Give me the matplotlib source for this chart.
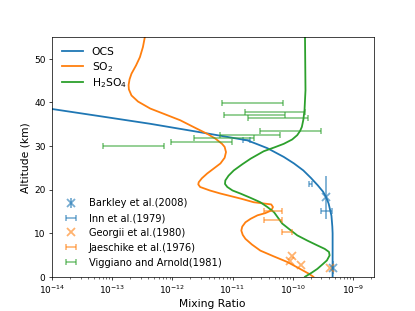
import numpy as np
import matplotlib
matplotlib.use("Agg")
import matplotlib.pyplot as plt

# model profiles (mixing ratio vs altitude km)
ocs_z = [0, 5, 10, 11.5, 14, 16.8, 18.2, 19.5, 21, 22.7, 24.4, 26, 27.5, 29.5,
         30.4, 31.3, 33, 35.1, 37, 38.5, 40]
ocs_x = [4.6e-10, 4.6e-10, 4.6e-10, 4.55e-10, 4.4e-10, 3.95e-10, 3.6e-10, 3.2e-10,
         2.6e-10, 2.0e-10, 1.5e-10, 1.05e-10, 7.1e-11, 3.8e-11, 2.6e-11, 1.76e-11,
         3.4e-12, 4.3e-13, 5.3e-14, 1e-14, 2e-15]

so2_z = [0, 0.7, 2.0, 3.4, 4.7, 6.0, 7.4, 8.7, 9.6, 10.6, 11.5, 12.5, 13.3, 14.1,
         14.6, 15.2, 16.0, 16.6, 17.1, 17.9, 19.1, 19.8, 20.6, 21.2, 21.7, 22.6,
         23.7, 26.0, 27.3, 28.6, 29.8, 30.5, 31.7, 32.8, 34.3, 35.9, 37.3, 38.6,
         40.2, 41.6, 43.0, 44.0, 45.3, 46.6, 48.5, 50.4, 52.7, 55]
so2_x = [2.2e-10, 1.85e-10, 1.25e-10, 8.1e-11, 4.8e-11, 2.9e-11, 2.1e-11, 1.64e-11,
         1.48e-11, 1.4e-11, 1.45e-11, 1.64e-11, 2.0e-11, 2.6e-11, 3.5e-11, 4.4e-11,
         4.7e-11, 4.4e-11, 2.25e-11, 1.4e-11, 6.3e-12, 4.2e-12, 2.9e-12, 2.7e-12,
         2.75e-12, 3.1e-12, 3.8e-12, 6.3e-12, 7.4e-12, 7.8e-12, 7.4e-12, 6.7e-12,
         5.2e-12, 3.8e-12, 2.3e-12, 1.36e-12, 7.5e-13, 4.3e-13, 2.7e-13, 2.1e-13,
         1.9e-13, 1.88e-13, 1.95e-13, 2.1e-13, 2.5e-13, 2.9e-13, 3.25e-13, 3.5e-13]

h2so4_z = [0, 0.9, 1.8, 2.8, 3.75, 4.9, 5.7, 6.4, 7.2, 8.3, 9.5, 10.8, 12.2, 14.8,
           16.0, 17.1, 18.1, 19.1, 19.8, 20.6, 21.3, 22.1, 23.2, 24.4, 25.8, 27.1,
           28.8, 29.7, 30.5, 31.5, 32.5, 33.5, 34.4, 36.0, 38.2, 42.8, 55]
h2so4_x = [1.6e-10, 2.05e-10, 2.56e-10, 3.1e-10, 3.7e-10, 4.1e-10, 4.0e-10, 3.4e-10,
           2.56e-10, 1.75e-10, 1.19e-10, 9.0e-11, 6.7e-11, 4.9e-11, 3.8e-11, 2.9e-11,
           2.0e-11, 1.35e-11, 1.0e-11, 8.2e-12, 7.5e-12, 7.6e-12, 8.6e-12, 1.05e-11,
           1.45e-11, 2.0e-11, 3.3e-11, 5.0e-11, 7.1e-11, 9.8e-11, 1.19e-10, 1.33e-10,
           1.42e-10, 1.5e-10, 1.57e-10, 1.63e-10, 1.6e-10]

# observations
barkley_x = [3.63e-10, 4.6e-10]
barkley_z = [18.2, 2.1]
barkley_zerr = [5.0, 1.5]

inn_z = [31.3, 21.2, 15.2]
inn_lo = [1.5e-11, 1.9e-10, 2.9e-10]
inn_hi = [1.94e-11, 2.1e-10, 4.5e-10]

georgii_x = [9.6e-11, 9.1e-11, 1.38e-10, 4.2e-10]
georgii_z = [4.7, 3.6, 2.8, 2.1]

jaes_z = [15.2, 13.1, 10.2]
jaes_lo = [3.3e-11, 3.3e-11, 6.7e-11]
jaes_hi = [6.7e-11, 6.7e-11, 9.8e-11]

vig_z = [39.9, 37.8, 37.05, 36.5, 33.5, 32.6, 31.9, 30.9, 30.0]
vig_lo = [6.8e-12, 1.6e-11, 7.3e-12, 1.8e-11, 2.9e-11, 6.1e-12, 2.3e-12, 9.5e-13, 7.1e-14]
vig_hi = [6.8e-11, 1.57e-10, 7.4e-11, 1.8e-10, 2.96e-10, 6.2e-11, 2.3e-11, 9.8e-12, 7.3e-13]


def span(lo, hi):
    lo, hi = np.array(lo), np.array(hi)
    mid = np.sqrt(lo * hi)
    return mid, [mid - lo, hi - mid]


fig, ax = plt.subplots(figsize=(6.4, 4.8))
l1, = ax.plot(ocs_x, ocs_z, color="C0", lw=2, label="OCS")
l2, = ax.plot(so2_x, so2_z, color="C1", lw=2, label="SO$_2$")
l3, = ax.plot(h2so4_x, h2so4_z, color="C2", lw=2, label="H$_2$SO$_4$")

a = 0.6
eb = dict(fmt="none", capsize=3.5, elinewidth=1.8, capthick=1.8, alpha=a)
h1 = ax.errorbar(barkley_x, barkley_z, yerr=barkley_zerr, fmt="x", color="C0",
                 ms=9, mew=2, elinewidth=2, alpha=a, label="Barkley et al.(2008)")
m, e = span(inn_lo, inn_hi)
h2 = ax.errorbar(m, inn_z, xerr=e, color="C0", label="Inn et al.(1979)", **eb)
h3, = ax.plot(georgii_x, georgii_z, "x", color="C1", ms=9, mew=2, alpha=a,
              label="Georgii et al.(1980)")
m, e = span(jaes_lo, jaes_hi)
h4 = ax.errorbar(m, jaes_z, xerr=e, color="C1", label="Jaeschike et al.(1976)", **eb)
m, e = span(vig_lo, vig_hi)
h5 = ax.errorbar(m, vig_z, xerr=e, color="C2", label="Viggiano and Arnold(1981)", **eb)

ax.set_xscale("log")
ax.set_xlim(1e-14, 2.2e-9)
ax.set_ylim(0, 55)
ax.set_xlabel("Mixing Ratio", fontsize=12)
ax.set_ylabel("Altitude (km)", fontsize=12)

leg1 = ax.legend(handles=[l1, l2, l3], loc="upper left", frameon=False, fontsize=12,
                 labelspacing=0.25)
ax.add_artist(leg1)
ax.legend(handles=[h1, h2, h3, h4, h5], loc="lower left", frameon=False, fontsize=11)

fig.savefig("out.png", dpi=64.85)
